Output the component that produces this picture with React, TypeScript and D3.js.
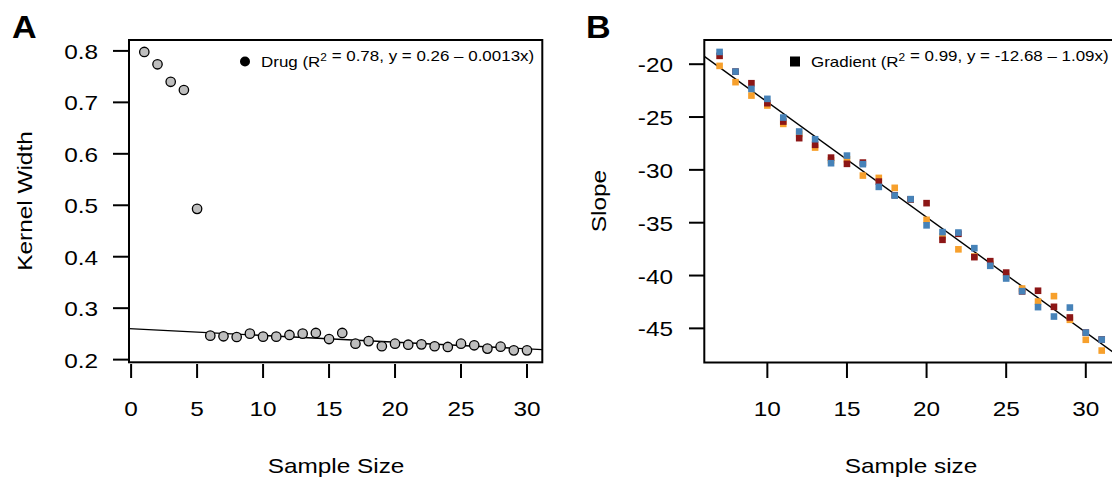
import React from 'react';
import * as d3 from 'd3';

// panel A: kernel width vs sample size
const drugSize = [1, 2, 3, 4, 5, 6, 7, 8, 9, 10, 11, 12, 13, 14, 15, 16, 17, 18, 19, 20, 21, 22, 23, 24, 25, 26, 27, 28, 29, 30];
const drugKernelWidth = [
    0.798, 0.774, 0.740, 0.724, 0.493, 0.2466, 0.2453, 0.244, 0.2505, 0.2447,
    0.2447, 0.248, 0.2505, 0.2518, 0.240, 0.2518, 0.231, 0.236, 0.226, 0.231,
    0.229, 0.2297, 0.226, 0.2246, 0.231, 0.2278, 0.2214, 0.2252, 0.218, 0.218,
];
const drugFit = { intercept: 0.26, slope: -0.0013 };
const aXTicks = [0, 5, 10, 15, 20, 25, 30];
const aYTicks = [0.2, 0.3, 0.4, 0.5, 0.6, 0.7, 0.8];

// panel B: slope vs sample size, three runs
const gradSize = [7, 8, 9, 10, 11, 12, 13, 14, 15, 16, 17, 18, 19, 20, 21, 22, 23, 24, 25, 26, 27, 28, 29, 30, 31];
const slopeOrange = [
    -20.16, -21.70, -22.97, -23.91, -25.65, -26.6, -27.89, -29.1, -29.0, -30.54,
    -30.76, -31.70, -32.8, -34.73, -36.3, -37.52, -38.2, -38.9, -40.1, -41.23,
    -42.46, -41.95, -44.19, -46.08, -47.10,
];
const slopeRed = [
    -19.21, -20.7, -21.80, -23.69, -25.43, -27.0, -27.63, -28.84, -29.43, -29.31,
    -31.11, -32.4, -32.8, -33.15, -36.62, -36.05, -38.26, -38.64, -39.72, -41.5,
    -41.44, -42.96, -43.97, -45.4, -46.05,
];
const slopeBlue = [
    -18.84, -20.70, -22.34, -23.28, -25.05, -26.37, -27.10, -29.37, -28.65, -29.46,
    -31.61, -32.43, -32.77, -35.25, -35.89, -35.93, -37.41, -39.08, -40.28, -41.48,
    -42.99, -43.88, -43.03, -45.40, -46.06,
];
const gradFit = { intercept: -12.68, slope: -1.09 };
const bXTicks = [10, 15, 20, 25, 30];
const bYTicks = [-45, -40, -35, -30, -25, -20];

const seriesB = [
    { values: slopeOrange, color: '#f7a02c' },
    { values: slopeRed, color: '#8c1616' },
    { values: slopeBlue, color: '#4682b8' },
];

const FONT = '"Liberation Sans", Arial, Helvetica, sans-serif';
const SX = 1.16; // the original font runs wide

const Txt = ({ x, y, size = 21, anchor = 'start', rotate = false, weight = 'normal', sx = SX, children }: any) => (
    <text
        transform={`translate(${x},${y})${rotate ? ' rotate(-90)' : ''} scale(${sx},1)`}
        fontSize={size}
        fontFamily={FONT}
        fontWeight={weight}
        textAnchor={anchor}
        fill="#000"
    >
        {children}
    </text>
);

const Sup = ({ text }: { text: string }) => (
    <>
        <tspan dy={-6.5} fontSize={10.5}>{text}</tspan>
        <tspan dy={6.5}>{''}</tspan>
    </>
);

const App = () => {
    // panel A scales
    const ax = d3.scaleLinear().domain([-0.16, 31.16]).range([129, 542.3]);
    const ay = d3.scaleLinear().domain([0.1948, 0.8212]).range([362.3, 40]);
    // panel B scales
    const bx = d3.scaleLinear().domain([6.04, 31.96]).range([704.3, 1117]);
    const by = d3.scaleLinear().domain([-48.23, -17.71]).range([362.5, 40]);

    const [ax0, ax1] = ax.domain();
    const [bx0, bx1] = bx.domain();
    const fitA = d3.line<number>().x(d => ax(d)).y(d => ay(drugFit.intercept + drugFit.slope * d));
    const fitB = d3.line<number>().x(d => bx(d)).y(d => by(gradFit.intercept + gradFit.slope * d));

    const sq = 6.6;

    return (
        <svg width={1112} height={484} style={{ position: 'absolute', left: 0, top: 0, background: '#fff' }}>
            {/* ---------- A ---------- */}
            <Txt x={12} y={38} size={31} weight="bold" sx={1.1}>A</Txt>
            <path d={fitA([ax0, ax1]) || ''} stroke="#000" strokeWidth={1.4} fill="none" />
            {drugSize.map((s, i) => (
                <circle key={s} cx={ax(s)} cy={ay(drugKernelWidth[i])} r={4.7} fill="#bebebe" stroke="#000" strokeWidth={1.3} />
            ))}
            <rect x={ax.range()[0]} y={ay.range()[1]} width={ax.range()[1] - ax.range()[0]} height={ay.range()[0] - ay.range()[1]}
                fill="none" stroke="#000" strokeWidth={2} />
            {aYTicks.map(t => (
                <g key={t}>
                    <line x1={113} x2={ax.range()[0]} y1={ay(t)} y2={ay(t)} stroke="#000" strokeWidth={2} />
                    <Txt x={98} y={ay(t) + 8} anchor="end">{t.toFixed(1)}</Txt>
                </g>
            ))}
            {aXTicks.map(t => (
                <g key={t}>
                    <line x1={ax(t)} x2={ax(t)} y1={364} y2={378} stroke="#000" strokeWidth={2} />
                    <Txt x={ax(t)} y={416} anchor="middle">{t}</Txt>
                </g>
            ))}
            <Txt x={336} y={473} anchor="middle">Sample Size</Txt>
            <Txt x={32} y={201} anchor="middle" rotate>Kernel Width</Txt>
            <circle cx={245} cy={61.5} r={5} fill="#000" />
            <Txt x={261} y={67} size={15} sx={1.13}>
                Drug (R<Sup text="2" /> = 0.78, y = 0.26 – 0.0013x)
            </Txt>

            {/* ---------- B ---------- */}
            <Txt x={586} y={38} size={31} weight="bold" sx={1.1}>B</Txt>
            <path d={fitB([bx0, bx1]) || ''} stroke="#000" strokeWidth={1.4} fill="none" />
            {seriesB.map((s, k) => (
                <g key={k}>
                    {gradSize.map((n, i) => (
                        <rect key={n} x={bx(n) - sq / 2} y={by(s.values[i]) - sq / 2} width={sq} height={sq} fill={s.color} />
                    ))}
                </g>
            ))}
            <rect x={bx.range()[0]} y={by.range()[1]} width={bx.range()[1] - bx.range()[0]} height={by.range()[0] - by.range()[1]}
                fill="none" stroke="#000" strokeWidth={2} />
            {bYTicks.map(t => (
                <g key={t}>
                    <line x1={689} x2={bx.range()[0]} y1={by(t)} y2={by(t)} stroke="#000" strokeWidth={2} />
                    <Txt x={673} y={by(t) + 8} anchor="end">{t}</Txt>
                </g>
            ))}
            {bXTicks.map(t => (
                <g key={t}>
                    <line x1={bx(t)} x2={bx(t)} y1={362.5} y2={378} stroke="#000" strokeWidth={2} />
                    <Txt x={bx(t)} y={416} anchor="middle">{t}</Txt>
                </g>
            ))}
            <Txt x={911} y={473} anchor="middle">Sample size</Txt>
            <Txt x={606} y={201} anchor="middle" rotate>Slope</Txt>
            <rect x={790} y={56.5} width={10} height={10} fill="#000" />
            <Txt x={811} y={67} size={15} sx={1.13}>
                Gradient (R<Sup text="2" /> = 0.99, y = -12.68 – 1.09x)
            </Txt>
        </svg>
    );
};

export default App;
